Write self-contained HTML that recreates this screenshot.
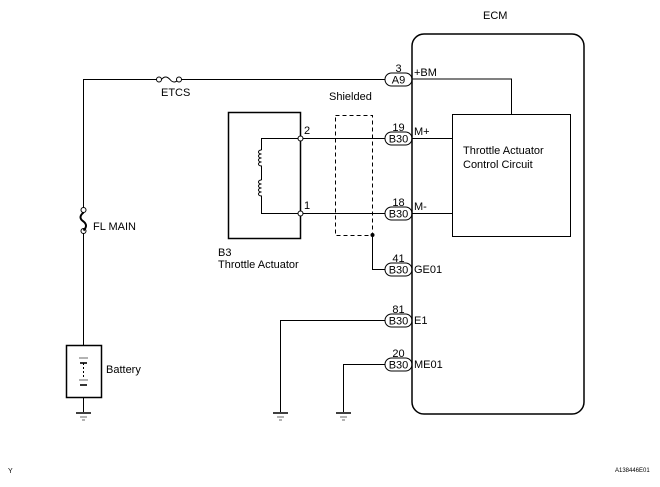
<!DOCTYPE html>
<html><head><style>
html,body{margin:0;padding:0;background:#fff;}
svg{display:block;font-family:"Liberation Sans",Arial,sans-serif;}
</style></head><body>
<svg width="660" height="487" viewBox="0 0 660 487" xmlns="http://www.w3.org/2000/svg">
<g fill="none" stroke="#000" stroke-width="1">
<!-- ECM -->
<rect x="412" y="34" width="172" height="380" rx="12" ry="12" stroke-width="1.5"/>
<rect x="452.5" y="114.5" width="118" height="122"/>
<polyline points="412,79 511.5,79 511.5,114"/>
<line x1="412" y1="138.5" x2="452" y2="138.5"/>
<line x1="412" y1="213.5" x2="452" y2="213.5"/>
<!-- left supply -->
<polyline points="385,79.5 181.5,79.5"/>
<polyline points="156.5,79.5 83.5,79.5 83.5,207.5"/>
<path d="M161.5,79.5 q4,-5 8.5,0 q4,5 8.5,0"/>
<circle cx="159" cy="79.5" r="2.5" fill="#fff"/>
<circle cx="179" cy="79.5" r="2.5" fill="#fff"/>
<circle cx="83.5" cy="210" r="2.5" fill="#fff"/>
<circle cx="83.5" cy="231" r="2.5" fill="#fff"/>
<path d="M83.5,212.5 q-6,5 0,9 q5,4 0,9" stroke-width="2"/>
<line x1="83.5" y1="233.5" x2="83.5" y2="345"/>
<rect x="66.5" y="345.5" width="35" height="52" stroke-width="1.5"/>
<line x1="83.5" y1="397" x2="83.5" y2="412"/>
<line x1="79" y1="358" x2="88" y2="358" stroke-width="0.6"/>
<line x1="80" y1="363" x2="87" y2="363" stroke-width="1.6"/>
<line x1="83.5" y1="363" x2="83.5" y2="378" stroke-dasharray="2,2"/>
<line x1="79" y1="380" x2="88" y2="380" stroke-width="0.6"/>
<line x1="80" y1="385" x2="87" y2="385" stroke-width="1.6"/>
<line x1="76" y1="413" x2="91" y2="413" stroke-width="1.5"/>
<line x1="80" y1="417" x2="87" y2="417" stroke-width="0.6"/>
<line x1="82" y1="420" x2="85" y2="420" stroke-width="0.6"/>
<!-- Throttle actuator -->
<rect x="228.5" y="112.5" width="72" height="126" stroke-width="1.5"/>
<polyline points="300,138.5 261.5,138.5 261.5,150"/>
<polyline points="300,213.5 261.5,213.5 261.5,200"/>
<line x1="261.5" y1="170" x2="261.5" y2="180"/>
<path d="M261.5,150 c-4,0 -4,4 0,4 c-4,0 -4,4 0,4 c-4,0 -4,4 0,4 c-4,0 -4,4 0,4 l0,4"/>
<path d="M261.5,180 c-4,0 -4,4 0,4 c-4,0 -4,4 0,4 c-4,0 -4,4 0,4 c-4,0 -4,4 0,4 l0,4"/>
<line x1="303" y1="138.5" x2="385" y2="138.5"/>
<line x1="303" y1="213.5" x2="385" y2="213.5"/>
<circle cx="300.5" cy="138.5" r="2.5" fill="#fff"/>
<circle cx="300.5" cy="213.5" r="2.5" fill="#fff"/>
<!-- shield -->
<rect x="335.5" y="115.5" width="37" height="120" stroke-dasharray="4,3"/>
<polyline points="372.5,235 372.5,269.5 385,269.5"/>
<!-- grounds -->
<polyline points="385,320.5 280.5,320.5 280.5,412"/>
<line x1="273" y1="413" x2="288" y2="413" stroke-width="1.5"/>
<line x1="277" y1="417" x2="284" y2="417" stroke-width="0.6"/>
<line x1="279" y1="420" x2="282" y2="420" stroke-width="0.6"/>
<polyline points="385,364.5 343.5,364.5 343.5,412"/>
<line x1="336" y1="413" x2="351" y2="413" stroke-width="1.5"/>
<line x1="340" y1="417" x2="347" y2="417" stroke-width="0.6"/>
<line x1="342" y1="420" x2="345" y2="420" stroke-width="0.6"/>
<!-- connector ovals -->
<rect x="385" y="73" width="27" height="13" rx="6.5"/>
<rect x="385" y="132" width="27" height="13" rx="6.5"/>
<rect x="385" y="207" width="27" height="13" rx="6.5"/>
<rect x="385" y="263" width="27" height="13" rx="6.5"/>
<rect x="385" y="314" width="27" height="13" rx="6.5"/>
<rect x="385" y="358" width="27" height="13" rx="6.5"/>
</g>
<circle cx="372.5" cy="235" r="2" fill="#000"/>
<g font-size="11" fill="#000">
<text x="483" y="19">ECM</text>
<text x="161" y="96">ETCS</text>
<text x="93" y="230">FL MAIN</text>
<text x="106" y="373">Battery</text>
<text x="329" y="100">Shielded</text>
<text x="218" y="256">B3</text>
<text x="218" y="268">Throttle Actuator</text>
<text x="304" y="134">2</text>
<text x="304" y="209">1</text>
<text x="463" y="154">Throttle Actuator</text>
<text x="463" y="168">Control Circuit</text>
<text x="414" y="76">+BM</text>
<text x="414" y="135">M+</text>
<text x="414" y="210">M-</text>
<text x="414" y="273">GE01</text>
<text x="414" y="324">E1</text>
<text x="414" y="368">ME01</text>
<g text-anchor="middle">
<text x="398.5" y="72">3</text><text x="398.5" y="83.5">A9</text>
<text x="398.5" y="131">19</text><text x="398.5" y="142.5">B30</text>
<text x="398.5" y="206">18</text><text x="398.5" y="217.5">B30</text>
<text x="398.5" y="262">41</text><text x="398.5" y="273.5">B30</text>
<text x="398.5" y="313">81</text><text x="398.5" y="324.5">B30</text>
<text x="398.5" y="357">20</text><text x="398.5" y="368.5">B30</text>
</g>
<text x="8" y="473" font-size="7">Y</text>
<text x="615" y="472" font-size="6">A138446E01</text>
</g>
</svg>
</body></html>
